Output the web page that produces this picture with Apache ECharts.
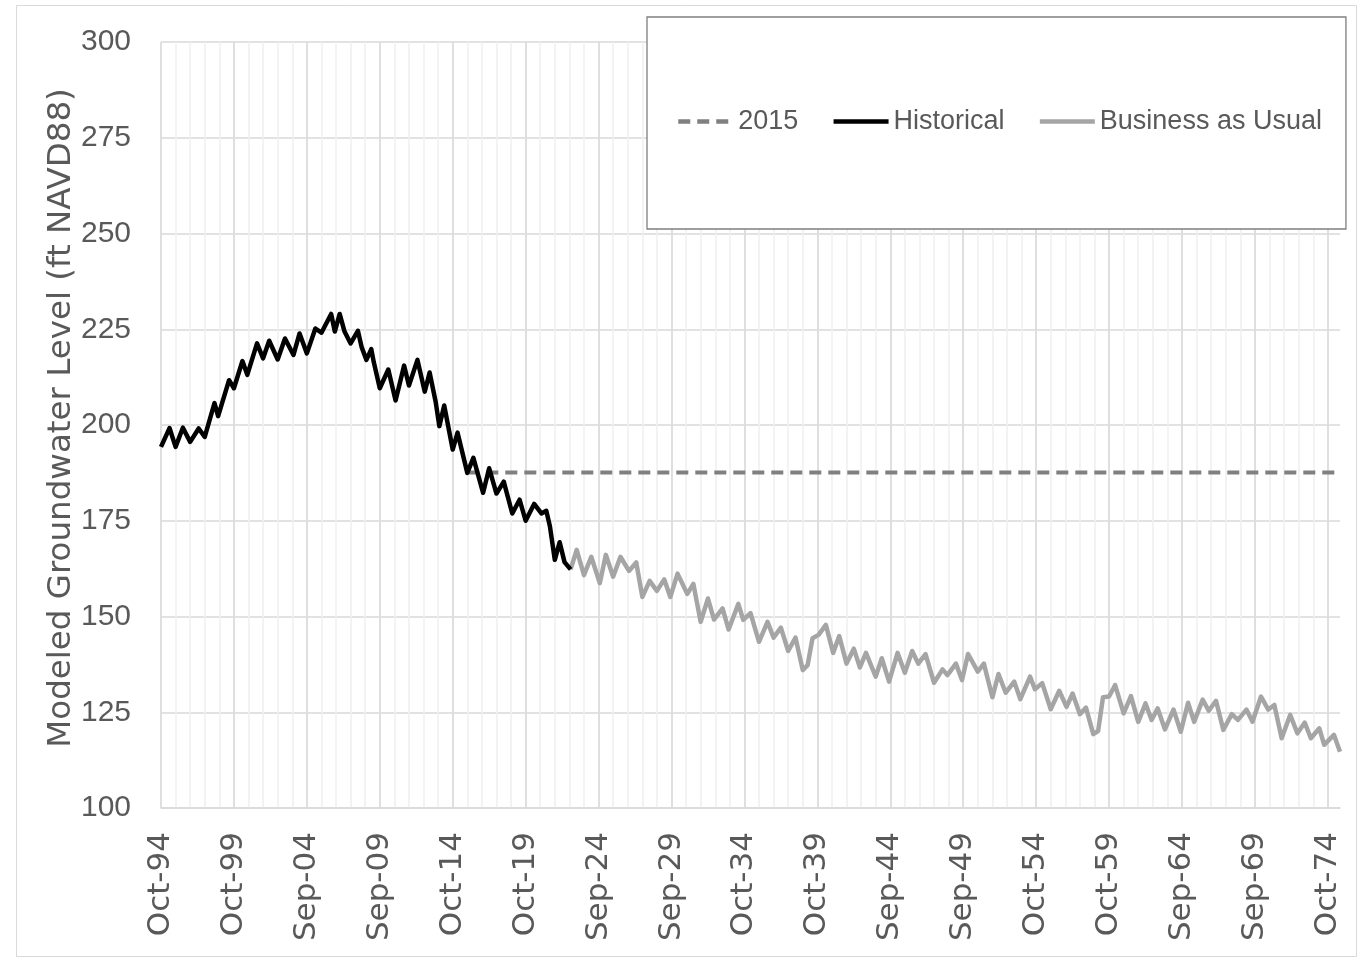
<!DOCTYPE html>
<html>
<head>
<meta charset="utf-8">
<script src="https://cdn.jsdelivr.net/npm/echarts@6/dist/echarts.min.js"></script>
<style>
html,body{margin:0;padding:0;background:#fff;}
#chart{width:1368px;height:959px;}
</style>
</head>
<body>
<div id="chart"></div>
<script>
// x values are months since Oct 1994
const xTickLabels = ['Oct-94','Oct-99','Sep-04','Sep-09','Oct-14','Oct-19','Sep-24','Sep-29','Oct-34',
  'Oct-39','Sep-44','Sep-49','Oct-54','Oct-59','Sep-64','Sep-69','Oct-74'];
const seriesNames = ['2015', 'Historical', 'Business as Usual'];

const historicalMonths = [0,7,12,18,24,31,36,44,47,56,60,67,71,79,84,89,96,102,109,114,120,127,132,140,143,147,151,156,162,165,
  169,173,175,180,187,193,200,204,211,217,221,226,229,233,240,244,252,257,265,270,276,282,289,295,300,307,313,317,320,324,328,332,337];
const historicalLevels = [194.3,199.2,194.3,199.3,195.6,199.1,196.9,205.7,202.3,211.7,209.6,216.7,213.1,221.3,217.4,222.0,217.1,222.6,218.3,223.9,
  218.7,225.2,224.1,229.0,224.4,229.0,224.4,221.3,224.6,220.4,217.0,219.8,216.5,209.6,214.5,206.4,215.5,210.3,217.0,208.7,
  213.7,206.0,199.7,205.1,193.6,198.0,187.5,191.4,182.3,188.7,182.1,185.2,176.9,180.5,175.0,179.4,176.9,177.6,173.5,164.8,169.4,164.2,162.3];

const bauMonths = [337,342,348,354,361,366,372,378,385,391,396,402,408,414,419,425,433,438,444,450,
  455,462,467,475,479,485,492,499,504,510,516,522,528,532,536,541,547,553,558,564,
  570,575,580,588,593,599,606,612,618,623,629,636,643,647,654,659,664,672,677,684,
  689,695,702,707,715,719,725,732,739,745,750,756,761,767,771,775,780,785,792,798,
  804,810,815,820,826,833,839,845,850,857,862,868,874,881,886,893,898,905,911,916,
  922,929,935,941,946,953,957,965,970];
const bauLevels = [162.3,167.4,160.8,165.6,158.7,166.1,160.4,165.6,161.9,164.1,155.1,159.3,156.7,159.7,155.1,161.2,155.9,158.5,148.6,154.7,
  149.2,152.1,146.6,153.3,149.1,150.9,143.4,148.6,144.5,147.1,141.0,144.5,136.0,137.3,144.3,145.2,147.8,140.5,144.9,137.7,
  141.6,136.7,140.5,134.3,139.1,133.0,140.5,135.3,141.0,137.7,140.2,132.7,136.2,134.7,137.7,133.4,140.2,135.6,137.7,128.9,
  135.0,130.1,133.0,128.4,134.3,131.0,132.6,125.8,130.6,126.4,129.9,124.5,126.2,119.3,120.1,128.9,129.1,132.1,124.7,129.2,
  122.5,127.3,123.0,126.0,120.5,125.7,119.9,127.5,122.5,128.3,125.4,128.0,120.4,124.5,123.0,125.7,122.5,129.1,125.7,126.9,
  118.2,124.3,119.5,122.3,118.2,120.8,116.5,119.1,114.7];

const level2015Months = [252, 970];
const level2015Levels = [187.6, 187.6];

const zip = (xs, ys) => xs.map((x, i) => [x, ys[i]]);

const TEXT = '#595959';
const NARROW = "'Liberation Sans',Arial,sans-serif";
const SANS = "'DejaVu Sans',sans-serif";

const chart = echarts.init(document.getElementById('chart'), null, {renderer: 'canvas'});
chart.setOption({
  animation: false,
  backgroundColor: '#fff',
  graphic: [{
    type: 'rect', silent: true, z: -10,
    shape: {x: 16.5, y: 5.5, width: 1340, height: 951},
    style: {fill: 'none', stroke: '#d9d9d9', lineWidth: 1}
  }],
  grid: {left: 161, top: 42, right: 28, bottom: 151, containLabel: false},
  legend: {
    data: seriesNames,
    left: 647, top: 17,
    padding: [91, 24, 94, 29],
    borderColor: '#7f7f7f', borderWidth: 1.3,
    backgroundColor: '#fff',
    itemWidth: 55, itemHeight: 14, itemGap: 33,
    itemStyle: {opacity: 0},
    lineStyle: {width: 4.5},
    textStyle: {fontFamily: NARROW, fontSize: 27, color: TEXT}
  },
  xAxis: [{
    type: 'value', min: 0, max: 970, interval: 60,
    axisLine: {show: true, lineStyle: {color: '#d9d9d9', width: 1.5}},
    axisTick: {show: false},
    axisLabel: {
      rotate: 90, margin: 24, color: TEXT, fontFamily: SANS, fontSize: 31,
      showMaxLabel: false,
      formatter: v => (v % 60 === 0 ? (xTickLabels[v / 60] || '') : '')
    },
    splitLine: {show: true, showMaxLine: false, lineStyle: {color: '#d9d9d9', width: 1.5}},
    z: 2
  }, {
    type: 'value', min: 0, max: 970, interval: 12, position: 'bottom',
    axisLine: {show: false}, axisTick: {show: false}, axisLabel: {show: false},
    splitLine: {show: true, showMaxLine: false, lineStyle: {color: '#efefef', width: 1.5}},
    z: 1
  }],
  yAxis: {
    type: 'value', min: 100, max: 300, interval: 25,
    name: 'Modeled Groundwater Level (ft NAVD88)',
    nameLocation: 'middle', nameRotate: 90, nameGap: 83, nameMoveOverlap: false,
    nameTextStyle: {fontFamily: SANS, fontSize: 32.5, color: TEXT, padding: [0, 0, 0, 14]},
    axisLine: {show: false}, axisTick: {show: false},
    axisLabel: {margin: 30, color: TEXT, fontFamily: NARROW, fontSize: 30},
    splitLine: {show: true, lineStyle: {color: '#d9d9d9', width: 1.5}}
  },
  series: [{
    name: seriesNames[0], type: 'line', xAxisIndex: 0,
    data: zip(level2015Months, level2015Levels),
    symbol: 'none', showSymbol: false, color: '#808080',
    lineStyle: {color: '#808080', width: 4, type: [12, 7]},
    z: 3
  }, {
    name: seriesNames[1], type: 'line', xAxisIndex: 0,
    data: zip(historicalMonths, historicalLevels),
    symbol: 'none', showSymbol: false, color: '#000000',
    lineStyle: {color: '#000000', width: 4.5, join: 'round'},
    z: 4
  }, {
    name: seriesNames[2], type: 'line', xAxisIndex: 0,
    data: zip(bauMonths, bauLevels),
    symbol: 'none', showSymbol: false, color: '#a5a5a5',
    lineStyle: {color: '#a5a5a5', width: 4.5, join: 'round'},
    z: 3
  }]
});
</script>
</body>
</html>
